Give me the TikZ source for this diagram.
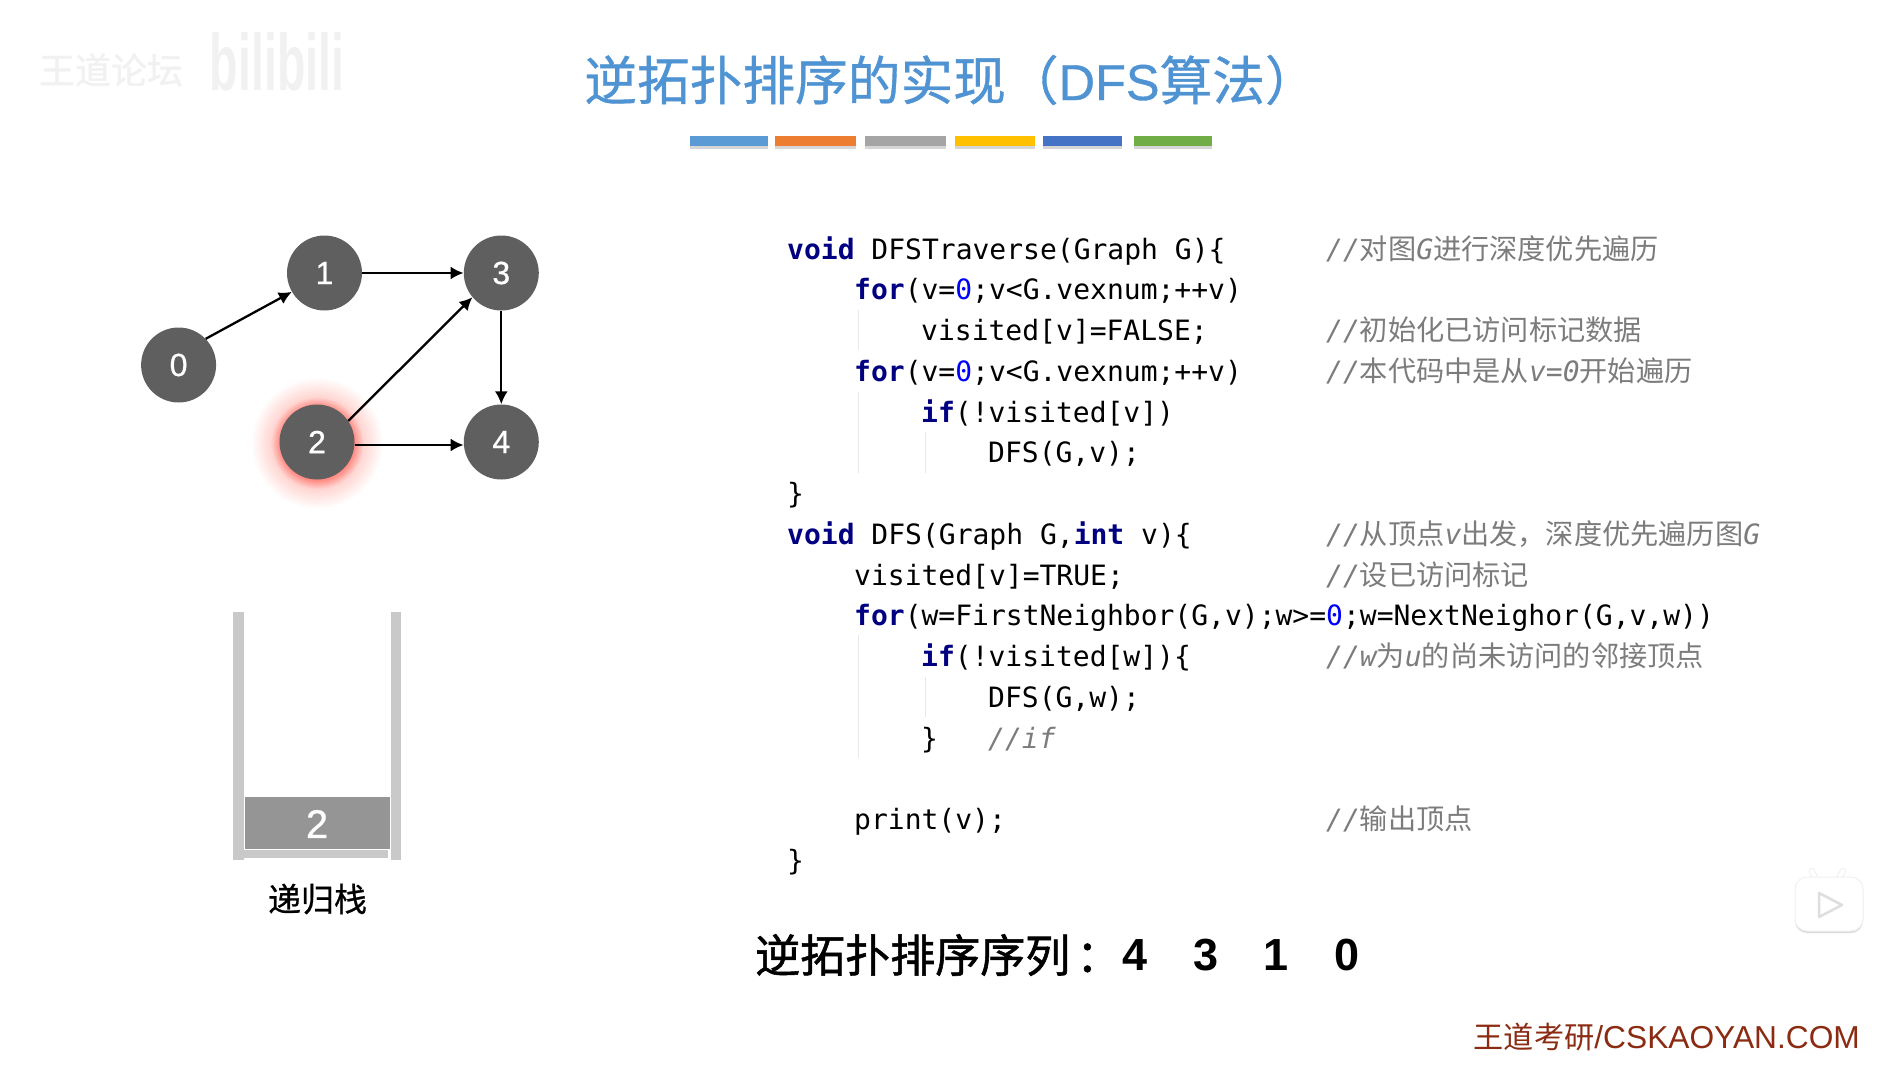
\documentclass[tikz,border=0pt]{standalone}
\usepackage{fontspec}
\usetikzlibrary{arrows.meta}
\setmainfont{Liberation Sans}
\setmonofont{DejaVu Sans Mono}
\newfontfamily\cjkfont{Noto Sans CJK SC}
\newfontfamily\cjkmed[FakeBold=.7]{Noto Sans CJK SC}
\newfontfamily\cjkbold[FakeBold=1.2]{Noto Sans CJK SC}
\newfontfamily\latinmed[FakeBold=.7]{Liberation Sans}
\newcommand{\zh}[1]{{\upshape\cjkfont\fontsize{28.2}{30}\selectfont #1}}
\newcommand{\kw}[1]{{\bfseries\color{kwblue}#1}}
\newcommand{\nm}[1]{{\color{numblue}#1}}
\definecolor{titleblue}{HTML}{4F93D3}
\definecolor{kwblue}{HTML}{000080}
\definecolor{numblue}{HTML}{0000FF}
\definecolor{cmtgray}{HTML}{7C7C7C}
\definecolor{guidegray}{HTML}{E8E8E8}
\definecolor{nodegray}{HTML}{5F5F5F}
\definecolor{wallgray}{HTML}{C9C9C9}
\definecolor{blockgray}{HTML}{959595}
\definecolor{markred}{HTML}{8A2B12}
\definecolor{glowred}{HTML}{FF8A82}
\definecolor{glowmid}{HTML}{FFD6D2}
\definecolor{faintgray}{HTML}{F1F1F1}
\definecolor{barone}{HTML}{5B9BD5}
\definecolor{bartwo}{HTML}{ED7D31}
\definecolor{barthree}{HTML}{A5A5A5}
\definecolor{barfour}{HTML}{FFC000}
\definecolor{barfive}{HTML}{4472C4}
\definecolor{barsix}{HTML}{70AD47}
\pgfdeclareradialshading{nodeglow}{\pgfpoint{0bp}{0bp}}{color(0bp)=(glowred); color(14bp)=(glowred); color(17.5bp)=(glowmid); color(25bp)=(white); color(50bp)=(white)}
\tikzset{
    vertex/.style={circle,fill=nodegray,text=white,minimum size=75pt,inner sep=0pt,font=\latinmed\fontsize{32}{36}\selectfont},
    edge/.style={line width=2.3pt,-{Latex[length=13pt,width=13pt]}},
    codeline/.style={anchor=base west,inner sep=0pt,font=\ttfamily\fontsize{28}{32}\selectfont},
    comment/.style={codeline,text=cmtgray,font=\ttfamily\itshape\fontsize{28}{32}\selectfont},
    guide/.style={line width=1pt,guidegray},
    barshadow/.style={fill=black!16},
    seqnum/.style={font=\bfseries\fontsize{45}{50}\selectfont}
}
\begin{document}
\begin{tikzpicture}[x=1pt,y=-1pt]
        \useasboundingbox (0,0) rectangle (1904,1065);
        % watermark
        \node[text=faintgray] (forum) at (111,70) {\cjkbold\fontsize{36}{40}\selectfont 王道论坛};
        \node[text=faintgray,xscale=.58] (site) at (277,62) {\bfseries\fontsize{80}{80}\selectfont bilibili};
        % title
        \node (title) at (951,80) {\color{titleblue}\cjkmed\fontsize{52.7}{60}\selectfont 逆拓扑排序的实现（{\latinmed\fontsize{50.5}{60}\selectfont DFS}算法）};
        % bars
        \fill[barshadow] (690,139) rectangle (768,148.5);\fill[barshadow] (775,139) rectangle (856,148.5);\fill[barshadow] (865,139) rectangle (946,148.5);
        \fill[barshadow] (955,139) rectangle (1035,148.5);\fill[barshadow] (1043,139) rectangle (1122,148.5);\fill[barshadow] (1134,139) rectangle (1212,148.5);
        \fill[barone] (690,136) rectangle (768,146);\fill[bartwo] (775,136) rectangle (856,146);\fill[barthree] (865,136) rectangle (946,146);
        \fill[barfour] (955,136) rectangle (1035,146);\fill[barfive] (1043,136) rectangle (1122,146);\fill[barsix] (1134,136) rectangle (1212,146);
        % glow
        \shade[shading=nodeglow] (317,443) circle (66);
        % graph
        \node[vertex] (n0) at (178.6,365) {0};
        \node[vertex] (n1) at (324.5,273) {1};
        \node[vertex] (n2) at (317,442) {2};
        \node[vertex] (n3) at (501.3,273) {3};
        \node[vertex] (n4) at (501.3,442) {4};
        \draw[edge] (n0.44) -- (n1.210);
        \draw[edge] (n1) -- (n3);
        \draw[edge] (n2.34) -- (n3.220);
        \draw[edge] (n3) -- (n4);
        \draw[edge] ([yshift=-3pt]n2.east) -- ([yshift=-3pt]n4.west);
        % stack
        \fill[wallgray] (232.7,612) rectangle (243.7,860);\fill[wallgray] (391,612) rectangle (401.3,860);
        \fill[wallgray] (244,850) rectangle (388,857.7);
        \fill[blockgray] (245,796.7) rectangle (390,848.7);
        \node[text=white] (top) at (317,824) {\latinmed\fontsize{40}{44}\selectfont 2};
        \node (stacklabel) at (317.5,899) {\cjkmed\fontsize{33}{36}\selectfont 递归栈};
        % indent guides
        \draw[guide] (858.7,310) -- (858.7,350);\draw[guide] (858.7,392) -- (858.7,473);\draw[guide] (925,432) -- (925,473);
        \draw[guide] (858.7,635) -- (858.7,758);\draw[guide] (925,677) -- (925,717);
        % code
        \node[codeline] (c0) at (787,259.2) {\kw{void} DFSTraverse(Graph G)\{};
        \node[codeline] (c1) at (854,299.9) {\kw{for}(v=\nm{0};v<G.vexnum;++v)};
        \node[codeline] (c2) at (921,340.7) {visited[v]=FALSE;};
        \node[codeline] (c3) at (854,381.4) {\kw{for}(v=\nm{0};v<G.vexnum;++v)};
        \node[codeline] (c4) at (921,422.1) {\kw{if}(!visited[v])};
        \node[codeline] (c5) at (988,462.9) {DFS(G,v);};
        \node[codeline] (c6) at (787,503.6) {\}};
        \node[codeline] (c7) at (787,544.3) {\kw{void} DFS(Graph G,\kw{int} v)\{};
        \node[codeline] (c8) at (854,585) {visited[v]=TRUE;};
        \node[codeline] (c9) at (854,625.8) {\kw{for}(w=FirstNeighbor(G,v);w>=\nm{0};w=NextNeighor(G,v,w))};
        \node[codeline] (c10) at (921,666.5) {\kw{if}(!visited[w])\{};
        \node[codeline] (c11) at (988,707.2) {DFS(G,w);};
        \node[codeline] (c12) at (921,748) {\}};
        \node[comment] (m12) at (988,748) {//if};
        \node[codeline] (c14) at (854,829.4) {print(v);};
        \node[codeline] (c15) at (787,870) {\}};
        % comments
        \node[comment] (m0) at (1326,259.2) {//\zh{对图}G\zh{进行深度优先遍历}};
        \node[comment] (m2) at (1326,340.7) {//\zh{初始化已访问标记数据}};
        \node[comment] (m3) at (1326,381.4) {//\zh{本代码中是从}v=0\zh{开始遍历}};
        \node[comment] (m7) at (1326,544.3) {//\zh{从顶点}v\zh{出发，深度优先遍历图}G};
        \node[comment] (m8) at (1326,585) {//\zh{设已访问标记}};
        \node[comment] (m10) at (1326,666.5) {//w\zh{为}u\zh{的尚未访问的邻接顶点}};
        \node[comment] (m14) at (1326,829.4) {//\zh{输出顶点}};
        % sequence
        \node[anchor=west,inner sep=0pt] (seq) at (755,955) {\cjkbold\fontsize{45}{50}\selectfont 逆拓扑排序序列\kern6pt：};
        \node[seqnum] (s0) at (1135,955) {4};\node[seqnum] (s1) at (1206,955) {3};\node[seqnum] (s2) at (1276,955) {1};\node[seqnum] (s3) at (1346.5,955) {0};
        % corner mark
        \node[anchor=east,inner sep=0pt,text=markred] (mark) at (1860,1037) {\fontsize{31.7}{36}\selectfont{\cjkfont\fontsize{30.2}{36}\selectfont 王道考研}/CSKAOYAN.COM};
        % play icon
        \draw[line width=6pt,black!8,line cap=round] (1816,880) -- (1812,871);\draw[line width=6pt,black!8,line cap=round] (1838,880) -- (1843,871);
        \draw[line width=4.5pt,white,line cap=round] (1816,880) -- (1812,871);\draw[line width=4.5pt,white,line cap=round] (1838,880) -- (1843,871);
        \fill[black!14,rounded corners=12pt] (1795,879) rectangle (1863,933);
        \draw[fill=white,draw=black!6,line width=1pt,rounded corners=12pt] (1795,877) rectangle (1863,931);
        \draw[fill=white,draw=black!13,line width=2.5pt,line join=round] (1819,893) -- (1842,905) -- (1819,917) -- cycle;
\end{tikzpicture}
\end{document}
